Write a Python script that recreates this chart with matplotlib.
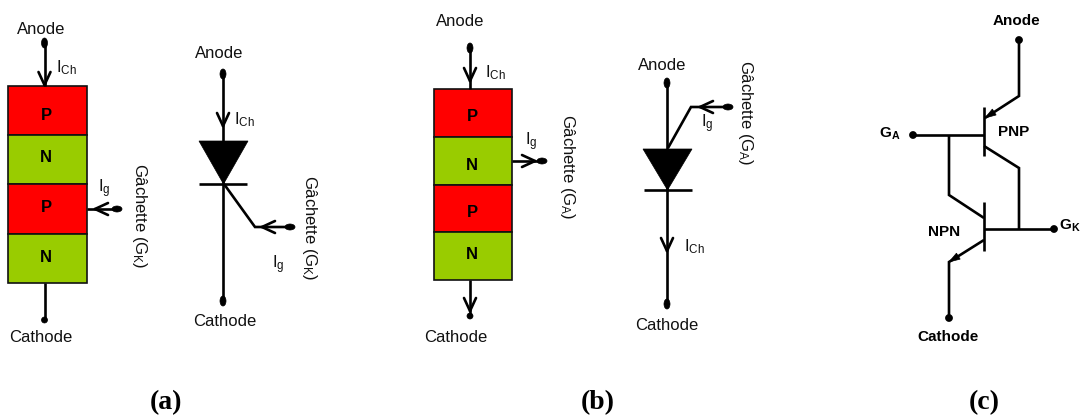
import matplotlib
matplotlib.use("Agg")
import matplotlib.pyplot as plt
from matplotlib.patches import Rectangle, Ellipse, Polygon
import numpy as np

plt.rcParams['font.family'] = ['Liberation Sans', 'DejaVu Sans']
plt.rcParams['mathtext.fontset'] = 'custom'
plt.rcParams['mathtext.rm'] = 'Liberation Sans'
plt.rcParams['mathtext.bf'] = 'Liberation Sans:bold'
plt.rcParams['mathtext.default'] = 'rm'

RED = '#ff0000'
GREEN = '#99cc00'
LAYER_LABELS = ['P', 'N', 'P', 'N']
LAYER_COLORS = [RED, GREEN, RED, GREEN]

STACK_A_X = (8, 87)
STACK_A_Y = [86, 135, 184, 234, 283]
LABEL_A_Y = [115, 157.5, 207.5, 257]
STACK_B_X = (434, 512)
STACK_B_Y = [89, 137, 185, 232, 280]
LABEL_B_Y = [116.5, 165, 212.5, 254]

# (points) polylines, per panel
WIRES = [
    [(44.5, 43), (44.5, 86)], [(44.5, 283), (44.5, 320)], [(87, 209), (117, 209)],
    [(223, 74), (223, 301)], [(199, 184.5), (247, 184.5)], [(224, 184), (255, 227), (290, 227)],
    [(470, 48), (470, 89)], [(470, 280), (470, 316)], [(512, 161), (542, 161)],
    [(667, 83), (667, 304)], [(643.5, 190.5), (691.5, 190.5)], [(668, 148), (691, 107), (728, 107)],
    [(1019, 40), (1019, 96), (985, 118)], [(984, 107), (984, 156)], [(913, 135), (984, 135)],
    [(949, 135), (949, 195), (984, 218)], [(984, 146), (1019, 168), (1019, 229)],
    [(984, 202), (984, 251)], [(984, 229), (1054, 229)], [(984, 240), (949, 262), (949, 318)],
]
OPEN_ARROWS = [((44.5, 85), (0, 1)), ((95, 209), (-1, 0)), ((223, 126), (0, 1)), ((262, 227), (-1, 0)),
               ((470, 81), (0, 1)), ((470, 311), (0, 1)), ((535, 161), (1, 0)), ((700, 107), (-1, 0)),
               ((667, 251), (0, 1))]
FILLED_ARROWS = [((985, 118), (-34, 22)), ((949, 262), (-35, 22))]
DIODES = [[(199, 141), (248, 141), (223.5, 184)], [(643, 149), (692, 149), (667.5, 190)]]
# (x, y, width, height)
DOTS = [(44.5, 43, 6, 10), (44.5, 320, 6, 6), (117, 209, 10, 6), (223, 74, 6, 10), (223, 301, 6, 10),
        (290, 227, 10, 6), (470, 48, 6, 10), (470, 316, 6, 6), (542, 161, 10, 6), (667, 83, 6, 10),
        (667, 304, 6, 10), (728, 107, 10, 6), (1019, 40, 7, 7), (913, 135, 7, 7), (1054, 229, 7, 7),
        (949, 318, 7, 7)]
# (x, y, text, rotation)
TEXTS = [
    (41, 29, 'Anode', 0), (40.5, 337, 'Cathode', 0), (66, 68, r'I$_{Ch}$', 0), (104, 189, r'I$_{g}$', 0),
    (139, 216, r'Gâchette (G$_{K}$)', -90),
    (219, 53, 'Anode', 0), (225, 321, 'Cathode', 0), (244, 120, r'I$_{Ch}$', 0), (278, 265, r'I$_{g}$', 0),
    (310, 228, r'Gâchette (G$_{K}$)', -90),
    (460, 21, 'Anode', 0), (456, 337, 'Cathode', 0), (495, 73, r'I$_{Ch}$', 0), (531, 142, r'I$_{g}$', 0),
    (568, 167, r'Gâchette (G$_{A}$)', -90),
    (662, 65, 'Anode', 0), (667, 325.5, 'Cathode', 0), (694, 247, r'I$_{Ch}$', 0), (707, 124, r'I$_{g}$', 0),
    (745, 113, r'Gâchette (G$_{A}$)', -90),
]
BOLD_TEXTS = [(1016, 21, 'Anode'), (948, 337, 'Cathode'), (1014, 132, 'PNP'), (944, 232, 'NPN'),
              (890, 134, r'G$_{\mathbf{A}}$'), (1070, 226, r'G$_{\mathbf{K}}$')]
PANEL_LABELS = [(166, 403, '(a)'), (598, 403, '(b)'), (984, 403, '(c)')]

fig = plt.figure(figsize=(10.81, 4.15), dpi=100)
ax = fig.add_axes([0, 0, 1, 1])
ax.set_xlim(0, 1081)
ax.set_ylim(415, 0)
ax.axis('off')
LW = 1.9


def stack(xs, ys, label_x, label_y):
    for i, (lab, col) in enumerate(zip(LAYER_LABELS, LAYER_COLORS)):
        ax.add_patch(Rectangle((xs[0], ys[i]), xs[1] - xs[0], ys[i + 1] - ys[i], fc=col, ec='#111111', lw=1.2, zorder=2))
        ax.text(label_x, label_y[i], lab, ha='center', va='center', fontsize=12, fontweight='bold', zorder=3)


stack(STACK_A_X, STACK_A_Y, 46, LABEL_A_Y)
stack(STACK_B_X, STACK_B_Y, 472, LABEL_B_Y)

for w in WIRES:
    xs, ys = zip(*w)
    ax.plot(xs, ys, color='black', lw=LW, solid_capstyle='butt', solid_joinstyle='miter', zorder=4)
for tip, d in OPEN_ARROWS:
    t, d = np.array(tip, float), np.array(d, float)
    n = np.array([-d[1], d[0]])
    for s in (-1, 1):
        p = t - 13 * d + s * 6 * n
        ax.plot([p[0], t[0]], [p[1], t[1]], color='black', lw=LW, solid_capstyle='round', zorder=5)
for tip, d in FILLED_ARROWS:
    t, d = np.array(tip, float), np.array(d, float)
    d = d / np.hypot(*d)
    n = np.array([-d[1], d[0]])
    ax.add_patch(Polygon([t, t - 11 * d + 3.5 * n, t - 11 * d - 3.5 * n], fc='black', ec='black', lw=0.5, zorder=5))
for tri in DIODES:
    ax.add_patch(Polygon(tri, fc='black', ec='black', lw=0.5, zorder=5))
for x, y, w, h in DOTS:
    ax.add_patch(Ellipse((x, y), w, h, fc='black', ec='black', lw=0.5, zorder=6))
for x, y, s, r in TEXTS:
    ax.text(x, y, s, ha='center', va='center', fontsize=12, rotation=r, color='#111111', zorder=7)
for x, y, s in BOLD_TEXTS:
    ax.text(x, y, s, ha='center', va='center', fontsize=11, fontweight='bold', zorder=7)
for x, y, s in PANEL_LABELS:
    ax.text(x, y, s, ha='center', va='center', fontsize=20, fontweight='bold', family='Liberation Serif', zorder=7)

fig.savefig('out.png', dpi=100, facecolor='white')
